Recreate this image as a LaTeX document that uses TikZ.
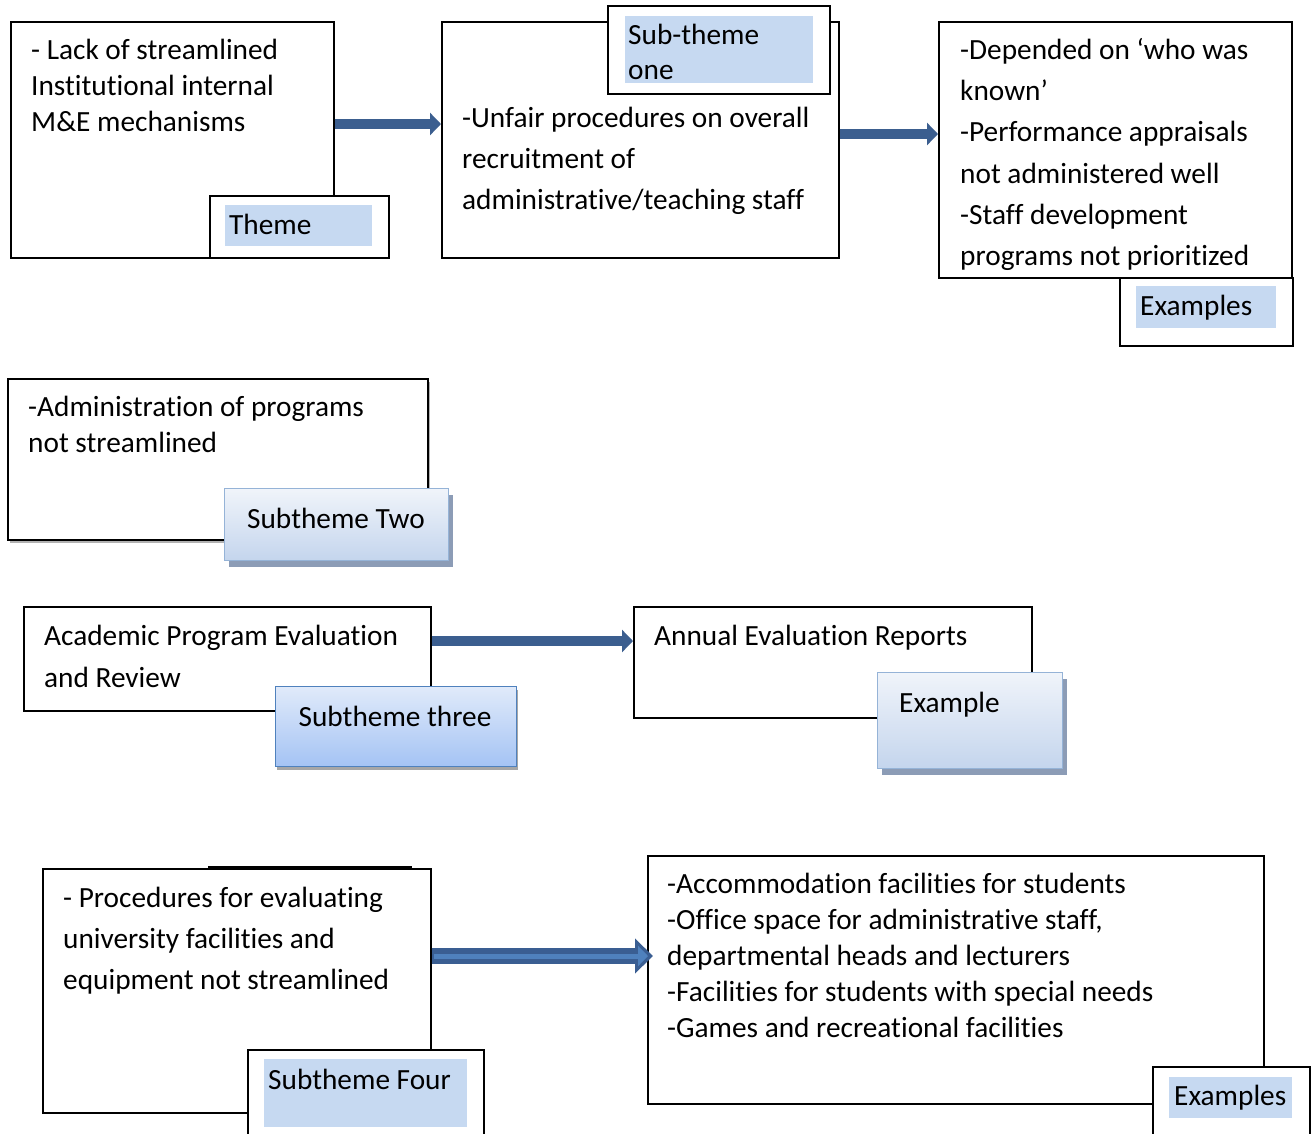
\documentclass[tikz,border=0pt]{standalone}
\usepackage{fontspec}
\setmainfont[Ligatures=NoCommon]{Carlito}
\usetikzlibrary{arrows.meta,shadows}

\definecolor{tagfill}{RGB}{198,217,241}
\definecolor{arrowblue}{RGB}{59,94,143}
\definecolor{arrowdark}{RGB}{58,94,146}
\definecolor{arrowlight}{RGB}{79,129,189}
\definecolor{paletop}{RGB}{240,244,250}
\definecolor{palebot}{RGB}{196,213,237}
\definecolor{paleedge}{RGB}{149,179,215}
\definecolor{bluetop}{RGB}{224,234,250}
\definecolor{bluebot}{RGB}{164,195,244}
\definecolor{blueedge}{RGB}{79,129,189}
\definecolor{shadowblue}{RGB}{140,156,182}

% one line of a text block, and a block of lines with a fixed line pitch
\newcommand\txl[1]{\hbox{#1}}
\newcommand\txtblock[2]{\vtop{\baselineskip=#1\lineskiplimit=-30pt\relax #2}}

\tikzset{
  box/.style={draw=black, line width=1.6pt, fill=white, inner sep=0pt, anchor=north west},
  tag/.style={fill=tagfill, inner sep=0pt, anchor=north west},
  txt/.style={inner sep=0pt, anchor=base west},
  ctxt/.style={inner sep=0pt, anchor=base},
  palebox/.style={draw=paleedge, line width=1.4pt, inner sep=0pt, anchor=north west,
    top color=paletop, bottom color=palebot,
    drop shadow={shadow xshift=4pt, shadow yshift=-6pt, fill=shadowblue, opacity=1}},
  bluebox/.style={draw=blueedge, line width=1.4pt, inner sep=0pt, anchor=north west,
    top color=bluetop, bottom color=bluebot,
    drop shadow={shadow xshift=1pt, shadow yshift=-3pt, fill=black, opacity=0.35}},
  softshadow/.style={drop shadow={shadow xshift=2pt, shadow yshift=-3pt, fill=black, opacity=0.3}},
  arr/.style={line width=10pt, draw=arrowblue, -{Triangle[length=11pt,width=22pt]}},
}

\begin{document}
\begin{tikzpicture}[x=1pt, y=-1pt, font=\fontsize{29.3}{36}\selectfont]
\useasboundingbox (0,0) rectangle (1311,1133);
\fill[white] (0,0) rectangle (1311,1133);
\clip (0,0) rectangle (1311,1133);

% heights of the block arrows
\coordinate (c1) at (0,124);
\coordinate (c2) at (0,134);
\coordinate (c3) at (0,641);
\coordinate (c4) at (0,956);

% ---------- theme ----------
\node[box, minimum width=323pt, minimum height=236pt] (A) at (10,21) {};
\node[txt] (At) at (31,59.5) {\txtblock{36pt}{\txl{- Lack of streamlined}\txl{Institutional internal}\txl{M\&E mechanisms}}};
\node[box, minimum width=179pt, minimum height=62pt] (Th) at (209,195) {};
\node[tag, minimum width=147pt, minimum height=41pt] (Thf) at (225,205) {};
\node[txt] (Tht) at (229,234.5) {Theme};

% ---------- sub-theme one ----------
\node[box, minimum width=397pt, minimum height=236pt] (B) at (441,21) {};
\node[txt] (Bt) at (462,127.5) {\txtblock{41pt}{\txl{-Unfair procedures on overall}\txl{recruitment of}\txl{administrative/teaching staff}}};
\node[box, minimum width=222pt, minimum height=88pt] (S1) at (607,5) {};
\node[tag, minimum width=188pt, minimum height=67pt] (S1f) at (625,16) {};
\node[txt] (S1t) at (628,44.5) {\txtblock{35pt}{\txl{Sub-theme}\txl{one}}};

% ---------- examples of sub-theme one ----------
\node[box, minimum width=353pt, minimum height=256pt] (C) at (938,21) {};
\node[txt] (Ct) at (960,59.5) {\txtblock{41.2pt}{\txl{-Depended on ‘who was}\txl{known’}\txl{-Performance appraisals}\txl{not administered well}\txl{-Staff development}\txl{programs not prioritized}}};
\node[box, minimum width=173pt, minimum height=68pt] (X1) at (1119,277) {};
\node[tag, minimum width=140pt, minimum height=42pt] (X1f) at (1136,286) {};
\node[txt] (X1t) at (1140,315.5) {Examples};

\draw[arr] (A.east |- c1) -- (B.west |- c1);
\draw[arr] (B.east |- c2) -- (C.west |- c2);

% ---------- subtheme two ----------
\node[box, softshadow, minimum width=420pt, minimum height=161pt] (D) at (7,378) {};
\node[txt] (Dt) at (28,416.5) {\txtblock{36pt}{\txl{-Administration of programs}\txl{not streamlined}}};
\node[palebox, minimum width=224pt, minimum height=72pt] (S2) at (224,488) {};
\node[ctxt] (S2t) at (336,528.5) {Subtheme Two};

% ---------- subtheme three ----------
\node[box, minimum width=407pt, minimum height=104pt] (E) at (23,606) {};
\node[txt] (Et) at (44,645.5) {\txtblock{42pt}{\txl{Academic Program Evaluation}\txl{and Review}}};
\node[bluebox, minimum width=241pt, minimum height=80pt] (S3) at (275,686) {};
\node[ctxt] (S3t) at (395,726.5) {Subtheme three};

\node[box, minimum width=398pt, minimum height=111pt] (F) at (633,606) {};
\node[txt] (Ft) at (654,645.5) {Annual Evaluation Reports};
\node[palebox, minimum width=185pt, minimum height=96pt] (X2) at (877,672) {};
\node[txt] (X2t) at (899,712.5) {Example};

\draw[arr] (E.east |- c3) -- (F.west |- c3);

% ---------- subtheme four ----------
\node[box, minimum width=388pt, minimum height=244pt] (G) at (42,868) {};
\draw[line width=2pt] ([xshift=166pt,yshift=0.6pt]G.north west) -- ([xshift=370pt,yshift=0.6pt]G.north west);
\node[txt] (Gt) at (63,907.5) {\txtblock{41pt}{\txl{- Procedures for evaluating}\txl{university facilities and}\txl{equipment not streamlined}}};
\node[box, minimum width=236pt, minimum height=100pt] (S4) at (247,1049) {};
\node[tag, minimum width=203pt, minimum height=68pt] (S4f) at (264,1059) {};
\node[txt] (S4t) at (268,1089.5) {Subtheme Four};

\node[box, minimum width=616pt, minimum height=248pt] (H) at (647,855) {};
\node[txt] (Ht) at (667,893.5) {\txtblock{36pt}{\txl{-Accommodation facilities for students}\txl{-Office space for administrative staff,}\txl{departmental heads and lecturers}\txl{-Facilities for students with special needs}\txl{-Games and recreational facilities}}};
\node[box, minimum width=157pt, minimum height=80pt] (X3) at (1152,1066) {};
\node[tag, minimum width=123pt, minimum height=41pt] (X3f) at (1169,1077) {};
\node[txt] (X3t) at (1174,1105.5) {Examples};

\draw[line width=16pt, draw=arrowdark, shorten >=-6pt, -{Triangle[length=18pt,width=34pt]}] (G.east |- c4) -- (H.west |- c4);
\draw[line width=5pt, draw=arrowlight, shorten <=2pt, shorten >=-1pt, -{Triangle[length=10pt,width=20pt]}] (G.east |- c4) -- (H.west |- c4);
\end{tikzpicture}
\end{document}
